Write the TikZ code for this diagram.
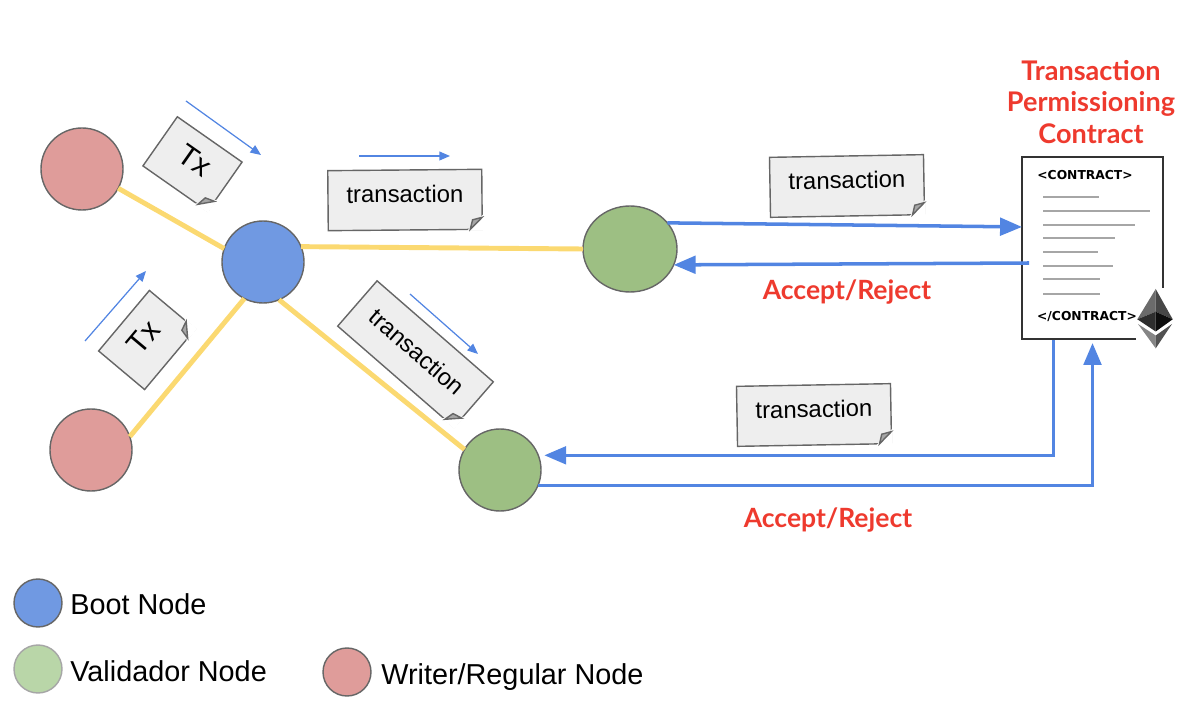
\documentclass[tikz,border=0pt]{standalone}
\usepackage{fontspec}
\setmainfont{Liberation Sans}
\newfontfamily\latofont{Lato}
\newfontfamily\tagfont{DejaVu Sans}
\usetikzlibrary{calc,arrows.meta,shapes.geometric}
\definecolor{writerred}{HTML}{DF9C9A}
\definecolor{bootblue}{HTML}{7099E2}
\definecolor{validgreen}{HTML}{9DBF83}
\definecolor{legendgreen}{HTML}{B9D6A8}
\definecolor{linkyellow}{HTML}{FBD971}
\definecolor{flowblue}{HTML}{5285E2}
\definecolor{titlered}{HTML}{EE3A2E}
\definecolor{notegray}{HTML}{EEEEEE}
\definecolor{noteline}{HTML}{666666}
\tikzset{
  peer/.style={circle,draw=black!60,line width=0.8pt,inner sep=0pt,outer sep=0pt,minimum size=82*0.02cm},
  notebox/.style={draw=noteline,fill=notegray,line width=0.8pt,inner sep=0pt,outer sep=0pt,
    minimum width=154*0.02cm,minimum height=60*0.02cm,text height=8.5pt,text depth=5.6pt,
    font=\fontsize{13.6}{16}\selectfont},
  txnote/.style={notebox,minimum width=79*0.02cm,text height=12.2pt,text depth=5.8pt,
    font=\fontsize{17}{20}\selectfont},
  linkline/.style={linkyellow,line width=2.8pt},
  flowarrow/.style={flowblue,line width=2pt,-{Triangle[length=12.5pt,width=10pt]}},
  thinarrow/.style={flowblue,line width=0.7pt,-{Triangle[length=6pt,width=5pt]}},
  redlabel/.style={text=titlered,font=\latofont\bfseries\fontsize{15.1}{18.1}\selectfont},
  legendlabel/.style={anchor=west,inner sep=0pt,text height=11.5pt,text depth=3.4pt,font=\fontsize{16.4}{19}\selectfont},
  tagtext/.style={inner sep=0pt,font=\tagfont\bfseries\fontsize{7}{9}\selectfont},
  codeline/.style={black!35,line width=1.4pt}
}
% curled corner at the lower right of a note
\newcommand{\foldnote}[1]{
  \coordinate (#1a) at ($(#1.south east)!12*0.02cm!(#1.south west)$);
  \coordinate (#1b) at ($(#1.south east)!12*0.02cm!(#1.north east)$);
  \coordinate (#1m) at ($(#1a)!0.5!(#1b)$);
  \filldraw[white,line width=1.4pt] (#1a) -- (#1.south east) -- (#1b) -- cycle;
  \draw[draw=noteline,fill=black!35,line width=0.8pt] (#1a) -- (#1b) -- ($(#1.south east)!1.6!(#1m)$) -- cycle;
}
\begin{document}
\begin{tikzpicture}[x=0.02cm,y=-0.02cm]
  \useasboundingbox (0,0) rectangle (1196,722);
  % nodes
  \node[peer,fill=writerred] (writerA) at (82,169) {};
  \node[peer,fill=writerred] (writerB) at (91,450) {};
  \node[peer,fill=bootblue] (boot) at (263,262) {};
  \node[peer,ellipse,fill=validgreen,minimum width=94*0.02cm,minimum height=86*0.02cm] (validA) at (630,249) {};
  \node[peer,fill=validgreen] (validB) at (500,470) {};
  % contract
  \node[minimum width=141*0.02cm,minimum height=183*0.02cm,inner sep=0pt,outer sep=0pt] (contract) at (1092.5,248.5) {};
  \draw[black!80,line width=1.4pt] (1136,339) -| (1022,157) -| (1163,288);
  \foreach \ly/\lx in {197/1099,211/1150,225/1135,238/1115,252/1098,266/1113,279/1100,294/1100}
    \draw[codeline] (1043,\ly) -- (\lx,\ly);
  \node[tagtext] (opentag) at (1085,175) {<CONTRACT>};
  \node[tagtext] (closetag) at (1087,317) {</CONTRACT>};
  % ether mark
  \fill[black!58] (1155.7,289) -- (1155.7,311.7) -- (1137.3,319.3) -- cycle;
  \fill[black!72] (1155.7,289) -- (1155.7,311.7) -- (1172.7,319.3) -- cycle;
  \fill[black!82] (1137.3,319.3) -- (1155.7,311.7) -- (1155.7,331.5) -- cycle;
  \fill[black!95] (1172.7,319.3) -- (1155.7,311.7) -- (1155.7,331.5) -- cycle;
  \fill[black!48] (1138,324) -- (1155.7,335.5) -- (1155.7,348.3) -- cycle;
  \fill[black!68] (1172,324) -- (1155.7,335.5) -- (1155.7,348.3) -- cycle;
  % yellow links
  \draw[linkline] (writerA.-28) -- (boot.161);
  \draw[linkline] (writerB.19) -- (boot.243);
  \draw[linkline] (boot.22) -- (validA.180);
  \draw[linkline] (boot.-67) -- (validB.150);
  % notes
  \node[txnote,rotate=-35] (txA) at (192.5,164) {Tx};
  \foldnote{txA}
  \node[txnote,rotate=50] (txB) at (147,340) {Tx};
  \foldnote{txB}
  \node[notebox,rotate=0.5] (noteA) at (405,200) {transaction};
  \foldnote{noteA}
  \node[notebox,rotate=-41,text depth=2pt] (noteB) at (415.5,354) {transaction};
  \foldnote{noteB}
  \node[notebox,rotate=1] (noteC) at (847,186) {transaction};
  \foldnote{noteC}
  \node[notebox,rotate=1] (noteD) at (814,415) {transaction};
  \foldnote{noteD}
  % thin arrows
  \coordinate (thinAs) at (186,101); \coordinate (thinAe) at (261,155);
  \coordinate (thinBs) at (359,156); \coordinate (thinBe) at (450,156);
  \coordinate (thinCs) at (85,341);  \coordinate (thinCe) at (146,271);
  \coordinate (thinDs) at (410,294); \coordinate (thinDe) at (478,354);
  \draw[thinarrow] (thinAs) -- (thinAe);
  \draw[thinarrow] (thinBs) -- (thinBe);
  \draw[thinarrow] (thinCs) -- (thinCe);
  \draw[thinarrow] (thinDs) -- (thinDe);
  % blue flows
  \coordinate (rejectstart) at (1029,263);
  \draw[flowarrow] (validA.35) -- (contract.163);
  \draw[flowarrow] (rejectstart) -- (validA.-20);
  \draw[flowarrow,shorten >=6*0.02cm] (contract.247) |- (validB.21);
  \draw[flowarrow,shorten >=3*0.02cm] (validB.-22) -| (contract.south);
  % labels
  \node[redlabel,align=center,font=\latofont\bfseries\fontsize{15.4}{18.1}\selectfont] (title) at (1091,102) {Transaction\\Permissioning\\Contract};
  \node[redlabel] (rejectA) at (847,292) {Accept/Reject};
  \node[redlabel] (rejectB) at (828,520) {Accept/Reject};
  % legend
  \node[peer,fill=bootblue,minimum size=48*0.02cm] (legboot) at (38,603) {};
  \node[peer,fill=legendgreen,draw=black!35,minimum size=48*0.02cm] (legvalid) at (38,669) {};
  \node[peer,fill=writerred,minimum size=48*0.02cm] (legwriter) at (347,672) {};
  \node[legendlabel] (txtboot) at (70,607) {Boot Node};
  \node[legendlabel] (txtvalid) at (70,674) {Validador Node};
  \node[legendlabel] (txtwriter) at (381,677) {Writer/Regular Node};
\end{tikzpicture}
\end{document}
